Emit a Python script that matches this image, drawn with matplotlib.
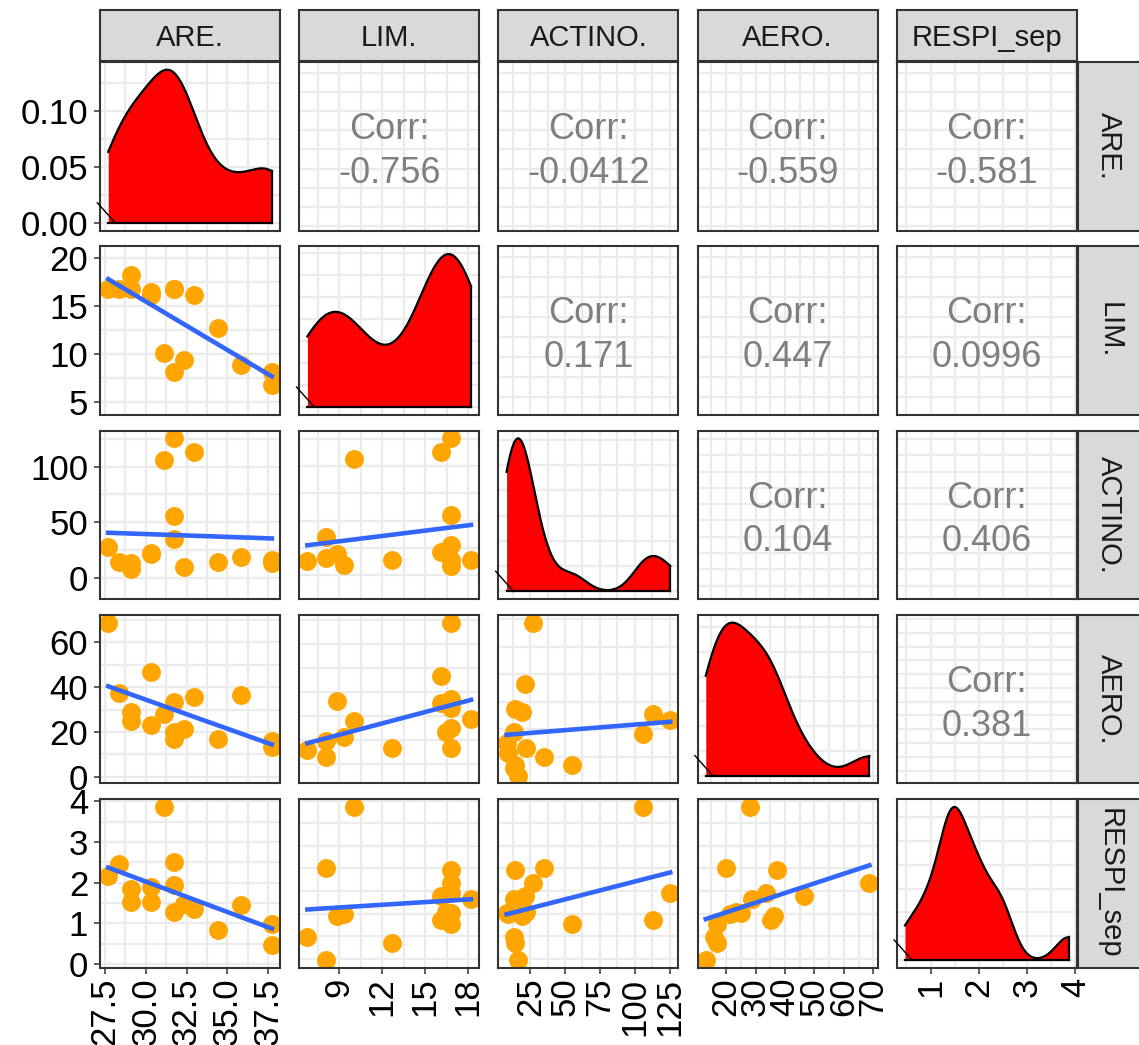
import numpy as np
import matplotlib
matplotlib.use("Agg")
import matplotlib.pyplot as plt
from matplotlib.ticker import MaxNLocator, AutoMinorLocator

plt.rcParams['font.family'] = ['Liberation Sans', 'DejaVu Sans']

# ---------------------------------------------------------------- data
names = ['ARE.', 'LIM.', 'ACTINO.', 'AERO.', 'RESPI_sep']

are    = [27.69, 28.36, 29.09, 29.09, 30.32, 30.32, 31.13, 31.75, 31.75, 31.75, 32.36, 32.97, 34.40, 35.83, 37.72, 37.72]
lim    = [16.80, 16.80, 18.20, 16.80, 16.10, 16.45, 10.05, 16.80, 16.80, 8.07, 9.35, 16.10, 12.72, 8.84, 6.78, 8.07]
actino = [27.3, 14.0, 13.5, 8.0, 21.3, 22.0, 106.3, 125.5, 55.2, 35.0, 9.3, 113.0, 14.4, 19.0, 13.0, 16.2]
aero   = [68.7, 37.2, 28.9, 25.1, 46.5, 23.3, 28.1, 33.4, 16.9, 19.8, 21.4, 35.4, 16.9, 36.4, 15.8, 13.1]
respi  = [2.17, 2.46, 1.83, 1.52, 1.89, 1.53, 3.86, 1.95, 1.27, 2.50, 1.48, 1.35, 0.84, 1.44, 0.99, 0.47]

# correlation labels of the upper triangle, row by row
corr_labels = [['-0.756', '-0.0412', '-0.559', '-0.581'],
               ['0.171', '0.447', '0.0996'],
               ['0.104', '0.406'],
               ['0.381']]

# left axis (rows) and bottom axis (columns) breaks
row_ticks = [[0.0, 0.05, 0.10], [5, 10, 15, 20], [0, 50, 100], [0, 20, 40, 60], [0, 1, 2, 3, 4]]
row_labels = [['0.00', '0.05', '0.10'], ['5', '10', '15', '20'], ['0', '50', '100'],
              ['0', '20', '40', '60'], ['0', '1', '2', '3', '4']]
col_ticks = [[27.5, 30, 32.5, 35, 37.5], [9, 12, 15, 18], [25, 50, 75, 100, 125],
             [20, 30, 40, 50, 60, 70], [1, 2, 3, 4]]
col_labels = [['27.5', '30.0', '32.5', '35.0', '37.5'], ['9', '12', '15', '18'],
              ['25', '50', '75', '100', '125'], ['20', '30', '40', '50', '60', '70'],
              ['1', '2', '3', '4']]

data = [np.array(v, float) for v in (are, lim, actino, aero, respi)]
T975 = 2.145  # t quantile, 14 df (lm confidence band, used for panel ranges)

GRID = '#EBEBEB'
BORDER = '#333333'

# ---------------------------------------------------------------- helpers

def expand(lo, hi):
	r = hi - lo
	return lo - 0.05 * r, hi + 0.05 * r

def minors(ticks):
	step = ticks[1] - ticks[0]
	return np.arange(ticks[0] - step / 2, ticks[-1] + step, step)

def density(v):
	n = len(v)
	q75, q25 = np.percentile(v, [75, 25])
	bw = 0.9 * min(v.std(ddof=1), (q75 - q25) / 1.34) * n ** -0.2
	g = np.linspace(v.min(), v.max(), 512)
	d = np.exp(-0.5 * ((g[:, None] - v[None, :]) / bw) ** 2).sum(1) / (n * bw * np.sqrt(2 * np.pi))
	return g, d

def lm_fit(x, y):
	n = len(x)
	b1, b0 = np.polyfit(x, y, 1)
	xs = np.linspace(x.min(), x.max(), 80)
	fit = b0 + b1 * xs
	s = np.sqrt(((y - (b0 + b1 * x)) ** 2).sum() / (n - 2))
	se = s * np.sqrt(1 / n + (xs - x.mean()) ** 2 / ((x - x.mean()) ** 2).sum())
	return xs, fit, fit - T975 * se, fit + T975 * se

# ---------------------------------------------------------------- layout (pixels)
W, H = 1139, 1045
PW, PH = 180, 168.4
col_x = [100 + j * 199.2 for j in range(5)]
row_y = [62.1 + i * 184.3 for i in range(5)]

def box(x, y, w, h):
	return [x / W, 1 - (y + h) / H, w / W, h / H]

fig = plt.figure(figsize=(W / 100, H / 100), dpi=100)
fig.patch.set_facecolor('white')

def style(ax, xt, yt, i, j):
	xlim, ylim = ax.get_xlim(), ax.get_ylim()
	ax.set_facecolor('white')
	for sp in ax.spines.values():
		sp.set_color(BORDER)
		sp.set_linewidth(1.5)
		sp.set_zorder(10)
	ax.set_xticks(xt)
	ax.set_xticks(minors(xt), minor=True)
	if yt is not None:
		ax.set_yticks(yt)
		ax.set_yticks(minors(yt), minor=True)
	ax.grid(True, which='both', color=GRID, lw=1.6)
	ax.set_axisbelow(True)
	ax.tick_params(which='minor', length=0)
	ax.tick_params(which='major', length=4, width=1.1, color=BORDER, labelsize=25,
	               labelcolor='black', pad=3)
	if j == 0:
		ax.set_yticks(row_ticks[i])
		ax.set_yticklabels(row_labels[i])
		ax.tick_params(axis='y', pad=4.5)
	else:
		ax.tick_params(axis='y', which='major', length=0, labelleft=False)
	if i == 4:
		ax.set_xticks(col_ticks[j])
		ax.set_xticklabels(col_labels[j], rotation=90)
	else:
		ax.tick_params(axis='x', which='major', length=0, labelbottom=False)
	ax.set_xlim(xlim)   # set_ticks widens the view, put the ranges back
	ax.set_ylim(ylim)

for i in range(5):
	for j in range(5):
		ax = fig.add_axes(box(col_x[j], row_y[i], PW, PH))
		xv = data[j]
		xlim = expand(xv.min(), xv.max())
		if i == j:
			g, d = density(xv)
			ax.fill_between(g, 0, d, color='#FF0000', lw=0, zorder=2)
			ax.plot(g, d, color='black', lw=1.6, zorder=3)
			ax.plot([g[0], g[-1]], [0, 0], color='black', lw=1.6, zorder=3)
			ax.plot([g[-1], g[-1]], [0, d[-1]], color='black', lw=1.6, zorder=3)
			ax.plot([-0.015, 0.085], [0.165, 0.045], transform=ax.transAxes,
			        color='black', lw=1.0, clip_on=False, zorder=11)
			ax.set_xlim(xlim)
			ax.set_ylim(-0.05 * d.max(), 1.05 * d.max())
			if i == 0:
				style(ax, col_ticks[j], row_ticks[0], i, j)
			else:
				style(ax, col_ticks[j], None, i, j)
				ax.yaxis.set_major_locator(MaxNLocator(nbins=4))
				ax.yaxis.set_minor_locator(AutoMinorLocator(2))
				ax.tick_params(axis='y', which='both', length=0, labelleft=False)
		elif i > j:
			yv = data[i]
			xs, fit, lo, hi = lm_fit(xv, yv)
			ax.scatter(xv, yv, s=185, color='#FFA500', lw=0, zorder=3)
			ax.plot(xs, fit, color='#3366FF', lw=3.3, zorder=4)
			ax.set_xlim(xlim)
			ax.set_ylim(expand(min(yv.min(), lo.min()), max(yv.max(), hi.max())))
			style(ax, col_ticks[j], row_ticks[i], i, j)
		else:
			yv = data[i]
			ax.set_xlim(xlim)
			ax.set_ylim(expand(yv.min(), yv.max()))
			style(ax, col_ticks[j], col_ticks[i], i, j)
			ax.text(0.5, 0.60, 'Corr:', transform=ax.transAxes, ha='center', va='center',
			        fontsize=26, color='#7F7F7F')
			ax.text(0.5, 0.34, corr_labels[i][j - i - 1], transform=ax.transAxes,
			        ha='center', va='center', fontsize=26, color='#7F7F7F')

# strips on top and on the right
for j in range(5):
	s = fig.add_axes(box(col_x[j], 10, PW, 51))
	s.set_facecolor('#D9D9D9')
	s.set_xticks([]); s.set_yticks([])
	for sp in s.spines.values():
		sp.set_color(BORDER); sp.set_linewidth(1.5)
	s.text(0.5, 0.45, names[j], transform=s.transAxes, ha='center', va='center',
	       fontsize=21, color='#1A1A1A')

for i in range(5):
	s = fig.add_axes(box(1078.3, row_y[i], 62, PH))
	s.set_facecolor('#D9D9D9')
	s.set_xticks([]); s.set_yticks([])
	for sp in s.spines.values():
		sp.set_color(BORDER); sp.set_linewidth(1.5)
	s.text(0.5, 0.5, names[i], transform=s.transAxes, ha='center', va='center',
	       rotation=-90, fontsize=21, color='#1A1A1A')

fig.savefig('out.png', dpi=100)
